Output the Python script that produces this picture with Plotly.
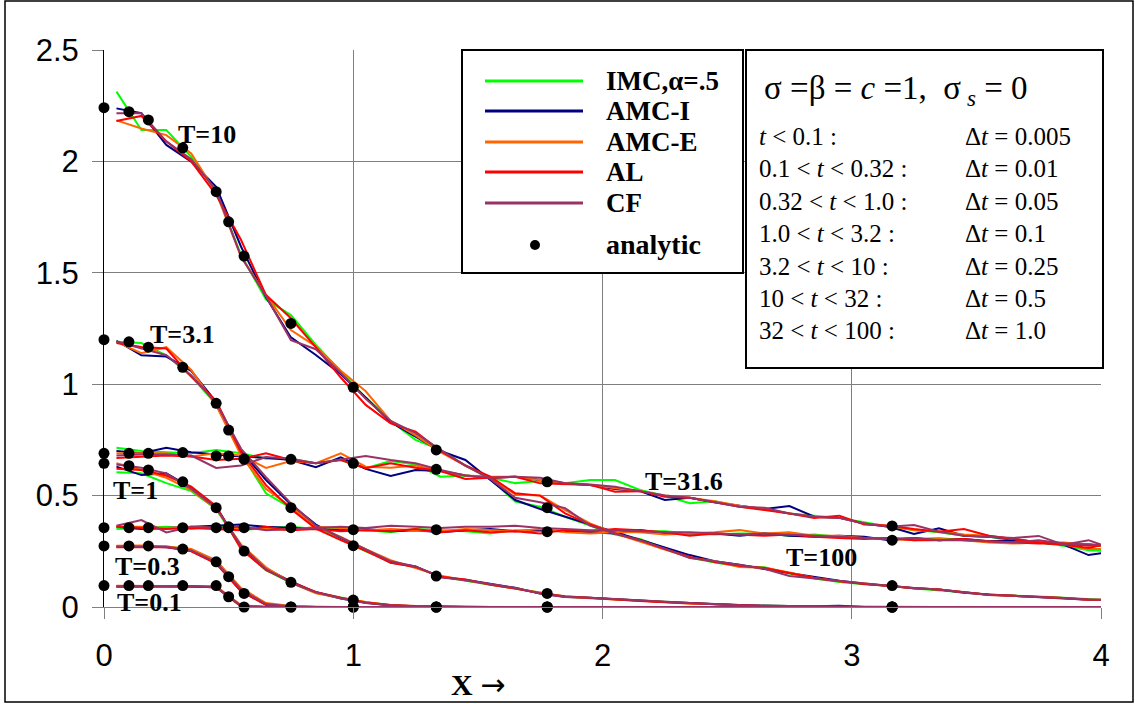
import plotly.graph_objects as go

# ---------------- data ----------------
XG = [0.05, 0.15, 0.25, 0.35, 0.45, 0.55, 0.65, 0.75, 0.85, 0.95,
      1.05, 1.15, 1.25, 1.35, 1.45, 1.55, 1.65, 1.75, 1.85, 1.95,
      2.05, 2.15, 2.25, 2.35, 2.45, 2.55, 2.65, 2.75, 2.85, 2.95,
      3.05, 3.15, 3.25, 3.35, 3.45, 3.55, 3.65, 3.75, 3.85, 3.95, 4.05]

# analytic points
AX = [0, 0.1, 0.178, 0.316, 0.45, 0.5, 0.562, 0.75, 1.0, 1.333, 1.778, 3.162]
A_T01 = [0.096, 0.096, 0.096, 0.096, 0.096, 0.046, 0.0, 0, 0, 0, 0, 0]
A_T03 = [0.274, 0.274, 0.274, 0.26, 0.203, 0.136, 0.061, 0, 0, 0, 0, 0]
A_T1 = [0.645, 0.634, 0.615, 0.562, 0.446, 0.36, 0.251, 0.111, 0.031, 0, 0, 0]
A_T31 = [1.2, 1.19, 1.166, 1.076, 0.914, 0.794, 0.664, 0.446, 0.275, 0.139, 0.061, 0]
A_T10 = [2.241, 2.223, 2.186, 2.061, 1.864, 1.729, 1.575, 1.273, 0.986, 0.705, 0.446, 0.096]
A_T316 = [0.69, 0.69, 0.69, 0.693, 0.678, 0.678, 0.664, 0.663, 0.645, 0.618, 0.562, 0.364]
A_T100 = [0.356, 0.356, 0.356, 0.356, 0.356, 0.356, 0.356, 0.356, 0.347, 0.347, 0.338, 0.30]

# ---- T = 0.1
IMC_T01 = [.094, .093, .095, .094, .091, .006, 0, 0, 0, 0, 0, 0, 0, 0, 0, 0, 0, 0, 0, 0, 0,
           0, 0, 0, 0, 0, 0, 0, 0, 0, 0, 0, 0, 0, 0, 0, 0, 0, 0, 0, 0]
AMCI_T01 = [.092, .094, .093, .092, .089, .004, 0, 0, 0, 0, 0, 0, 0, 0, 0, 0, 0, 0, 0, 0, 0,
            0, 0, 0, 0, 0, 0, 0, 0, 0, 0, 0, 0, 0, 0, 0, 0, 0, 0, 0, 0]
AMCE_T01 = [.095, .094, .093, .095, .093, .008, 0, 0, 0, 0, 0, 0, 0, 0, 0, 0, 0, 0, 0, 0, 0,
            0, 0, 0, 0, 0, 0, 0, 0, 0, 0, 0, 0, 0, 0, 0, 0, 0, 0, 0, 0]
AL_T01 = [.091, .092, .094, .093, .088, .003, 0, 0, 0, 0, 0, 0, 0, 0, 0, 0, 0, 0, 0, 0, 0,
          0, 0, 0, 0, 0, 0, 0, 0, 0, 0, 0, 0, 0, 0, 0, 0, 0, 0, 0, 0]
CF_T01 = [.093, .092, .092, .094, .090, .005, 0, 0, 0, 0, 0, 0, 0, 0, 0, 0, 0, 0, 0, 0, 0,
          0, 0, 0, 0, 0, 0, 0, 0, 0, 0, 0, 0, 0, 0, 0, 0, 0, 0, 0, 0]

# ---- T = 0.3
IMC_T03 = [.274, .270, .272, .258, .205, .080, .015, .003, 0, 0, 0, 0, 0, 0, 0, 0, 0, 0, 0, 0, 0,
           0, 0, 0, 0, 0, 0, 0, 0, 0, 0, 0, 0, 0, 0, 0, 0, 0, 0, 0, 0]
AMCI_T03 = [.270, .273, .268, .252, .197, .072, .010, .002, 0, 0, 0, 0, 0, 0, 0, 0, 0, 0, 0, 0, 0,
            0, 0, 0, 0, 0, 0, 0, 0, 0, 0, 0, 0, 0, 0, 0, 0, 0, 0, 0, 0]
AMCE_T03 = [.275, .276, .271, .260, .210, .085, .018, .004, 0, 0, 0, 0, 0, 0, 0, 0, 0, 0, 0, 0, 0,
            0, 0, 0, 0, 0, 0, 0, 0, 0, 0, 0, 0, 0, 0, 0, 0, 0, 0, 0, 0]
AL_T03 = [.268, .270, .269, .250, .195, .070, .009, .001, 0, 0, 0, 0, 0, 0, 0, 0, 0, 0, 0, 0, 0,
          0, 0, 0, 0, 0, 0, 0, 0, 0, 0, 0, 0, 0, 0, 0, 0, 0, 0, 0, 0]
CF_T03 = [.272, .271, .270, .254, .200, .078, .013, .002, 0, 0, 0, 0, 0, 0, 0, 0, 0, 0, 0, 0, 0,
          0, 0, 0, 0, 0, 0, 0, 0, 0, 0, 0, 0, 0, 0, 0, 0, 0, 0, 0, 0]

# ---- T = 1
IMC_T1 = [.605, .600, .556, .520, .440, .265, .165, .108, .064, .041, .021, .009, .003, .001, 0,
          0, 0, 0, 0, 0, 0, 0, 0, 0, 0, 0, 0, 0, 0, 0, 0, 0, 0, 0, 0, 0, 0, 0, 0, 0, 0]
AMCI_T1 = [.630, .592, .600, .535, .450, .270, .172, .115, .066, .038, .019, .007, .002, 0, 0,
           0, 0, 0, 0, 0, 0, 0, 0, 0, 0, 0, 0, 0, 0, 0, 0, 0, 0, 0, 0, 0, 0, 0, 0, 0, 0]
AMCE_T1 = [.645, .615, .580, .525, .440, .280, .178, .110, .062, .040, .022, .008, .003, .001, 0,
           0, 0, 0, 0, 0, 0, 0, 0, 0, 0, 0, 0, 0, 0, 0, 0, 0, 0, 0, 0, 0, 0, 0, 0, 0, 0]
AL_T1 = [.620, .615, .590, .540, .452, .260, .165, .113, .068, .042, .020, .009, .004, .001, 0,
         0, 0, 0, 0, 0, 0, 0, 0, 0, 0, 0, 0, 0, 0, 0, 0, 0, 0, 0, 0, 0, 0, 0, 0, 0, 0]
CF_T1 = [.640, .625, .600, .530, .445, .275, .170, .108, .066, .039, .018, .008, .003, .001, 0,
         0, 0, 0, 0, 0, 0, 0, 0, 0, 0, 0, 0, 0, 0, 0, 0, 0, 0, 0, 0, 0, 0, 0, 0, 0, 0]

# ---- T = 3.1
IMC_T31 = [1.19, 1.185, 1.13, 1.035, .91, .69, .51, .445, .355, .305,
           .25, .205, .178, .138, .118, .10, .082, .063, .047, .04,
           .034, .027, .021, .016, .012, .008, .005, .003, .002, .001,
           0, 0, 0, 0, 0, 0, 0, 0, 0, 0, 0]
AMCI_T31 = [1.195, 1.13, 1.124, 1.06, .92, .70, .57, .46, .37, .31,
            .258, .20, .182, .134, .122, .104, .086, .06, .045, .041,
            .036, .029, .022, .017, .011, .009, .006, .004, .003, .006,
            0, 0, 0, 0, 0, 0, 0, 0, 0, 0, 0]
AMCE_T31 = [1.19, 1.139, 1.166, 1.064, .905, .68, .53, .45, .36, .315,
            .26, .21, .175, .14, .12, .102, .084, .064, .046, .039,
            .035, .028, .023, .015, .013, .007, .005, .003, .002, .001,
            0, 0, 0, 0, 0, 0, 0, 0, 0, 0, 0]
AL_T31 = [1.185, 1.167, 1.16, 1.034, .925, .695, .547, .44, .352, .30,
          .252, .198, .18, .136, .124, .10, .083, .062, .048, .04,
          .033, .027, .021, .016, .012, .008, .004, .003, .001, 0,
          0, 0, 0, 0, 0, 0, 0, 0, 0, 0, 0]
CF_T31 = [1.192, 1.16, 1.13, 1.04, .915, .71, .583, .465, .365, .312,
          .26, .205, .182, .133, .12, .103, .085, .061, .046, .041,
          .035, .028, .022, .016, .012, .008, .005, .003, .002, .001,
          0, 0, 0, 0, 0, 0, 0, 0, 0, 0, 0]

# ---- T = 10
IMC_T10 = [2.313, 2.141, 2.141, 2.02, 1.864, 1.58, 1.38, 1.31, 1.176, 1.06,
           .94, .835, .75, .705, .635, .575, .473, .45, .405, .365,
           .325, .305, .262, .222, .20, .183, .178, .15, .128, .112,
           .102, .095, .083, .076, .066, .055, .052, .047, .041, .034, .03]
AMCI_T10 = [2.238, 2.216, 2.074, 1.999, 1.886, 1.617, 1.39, 1.21, 1.131, 1.045,
            .94, .83, .765, .70, .66, .57, .48, .44, .405, .37,
            .335, .30, .265, .233, .205, .19, .17, .152, .133, .118,
            .104, .093, .085, .078, .064, .056, .05, .045, .04, .032, .03]
AMCE_T10 = [2.184, 2.148, 2.118, 2.036, 1.86, 1.572, 1.40, 1.243, 1.17, 1.06,
            .968, .835, .77, .695, .635, .58, .505, .50, .435, .375,
            .33, .295, .258, .222, .205, .18, .176, .155, .13, .115,
            .105, .094, .084, .079, .065, .054, .05, .046, .04, .033, .03]
AL_T10 = [2.181, 2.204, 2.09, 2.0, 1.85, 1.647, 1.40, 1.296, 1.165, 1.03,
          .907, .824, .787, .70, .635, .585, .51, .50, .42, .37,
          .33, .30, .26, .225, .202, .185, .175, .152, .13, .116,
          .103, .094, .084, .078, .066, .055, .05, .046, .04, .033, .032]
CF_T10 = [2.216, 2.216, 2.09, 2.01, 1.87, 1.572, 1.395, 1.198, 1.157, 1.05,
          .935, .835, .78, .705, .635, .575, .49, .47, .444, .365,
          .33, .30, .262, .22, .205, .188, .172, .139, .128, .114,
          .104, .094, .084, .078, .066, .054, .05, .046, .04, .034, .03]

# ---- T = 31.6
IMC_T316 = [.715, .70, .695, .69, .705, .69, .665, .665, .645, .66,
            .623, .655, .64, .585, .59, .58, .556, .565, .555, .57,
            .57, .525, .50, .466, .475, .45, .44, .42, .41, .40,
            .38, .36, .345, .335, .32, .315, .30, .29, .275, .255, .25]
AMCI_T316 = [.70, .69, .715, .695, .685, .675, .67, .66, .627, .672,
             .62, .588, .615, .61, .59, .58, .585, .57, .555, .548,
             .53, .52, .48, .49, .47, .455, .44, .453, .405, .40,
             .375, .36, .328, .353, .32, .315, .305, .29, .28, .233, .25]
AMCE_T316 = [.69, .69, .69, .675, .69, .68, .624, .655, .645, .69,
             .63, .625, .635, .61, .59, .585, .585, .57, .555, .548,
             .535, .52, .50, .49, .475, .455, .44, .42, .405, .40,
             .375, .365, .345, .34, .325, .32, .305, .29, .28, .26, .26]
AL_T316 = [.669, .675, .68, .675, .66, .665, .69, .66, .645, .66,
           .623, .645, .625, .61, .575, .58, .585, .555, .55, .548,
           .517, .52, .495, .49, .47, .45, .435, .42, .40, .41,
           .37, .365, .35, .338, .35, .32, .305, .29, .28, .265, .29]
CF_T316 = [.68, .685, .685, .68, .624, .635, .673, .665, .645, .66,
           .678, .66, .645, .615, .59, .58, .585, .58, .555, .55,
           .54, .52, .50, .49, .47, .45, .445, .42, .405, .40,
           .375, .36, .368, .338, .32, .315, .31, .319, .28, .30, .26]

# ---- T = 100
IMC_T100 = [.35, .355, .36, .35, .365, .345, .355, .36, .35, .355,
            .345, .335, .35, .345, .34, .33, .345, .345, .34, .335,
            .345, .34, .34, .33, .325, .33, .33, .32, .325, .315,
            .31, .31, .305, .31, .30, .295, .29, .29, .285, .28, .27]
AMCI_T100 = [.36, .35, .355, .36, .365, .37, .36, .355, .35, .345,
             .35, .34, .345, .335, .345, .35, .34, .345, .34, .335,
             .33, .345, .33, .33, .33, .32, .33, .32, .315, .32,
             .315, .30, .31, .30, .305, .295, .30, .29, .28, .28, .275]
AMCE_T100 = [.36, .36, .355, .36, .355, .355, .35, .345, .36, .355,
             .345, .35, .345, .34, .35, .345, .34, .35, .335, .33,
             .335, .335, .325, .33, .335, .345, .33, .335, .32, .32,
             .31, .305, .30, .305, .30, .29, .285, .29, .29, .28, .27]
AL_T100 = [.36, .355, .35, .355, .35, .345, .36, .345, .35, .34,
           .345, .34, .35, .335, .345, .335, .34, .33, .345, .34,
           .35, .345, .335, .32, .33, .325, .32, .325, .315, .31,
           .305, .31, .30, .30, .305, .295, .29, .285, .285, .275, .28]
CF_T100 = [.365, .39, .335, .36, .355, .36, .345, .35, .355, .36,
           .355, .365, .36, .355, .36, .36, .365, .355, .35, .345,
           .345, .34, .335, .335, .33, .325, .33, .325, .32, .315,
           .31, .305, .31, .30, .30, .295, .29, .30, .285, .28, .275]

METHODS = ["IMC,\u03b1=.5", "AMC-I", "AMC-E", "AL", "CF"]
COLORS = ["#00FF00", "#000080", "#FF6600", "#FF0000", "#993366"]
CURVES = [
    [IMC_T01, IMC_T03, IMC_T1, IMC_T31, IMC_T10, IMC_T316, IMC_T100],
    [AMCI_T01, AMCI_T03, AMCI_T1, AMCI_T31, AMCI_T10, AMCI_T316, AMCI_T100],
    [AMCE_T01, AMCE_T03, AMCE_T1, AMCE_T31, AMCE_T10, AMCE_T316, AMCE_T100],
    [AL_T01, AL_T03, AL_T1, AL_T31, AL_T10, AL_T316, AL_T100],
    [CF_T01, CF_T03, CF_T1, CF_T31, CF_T10, CF_T316, CF_T100],
]
ANALYTIC = [A_T01, A_T03, A_T1, A_T31, A_T10, A_T316, A_T100]

CURVE_LABELS = ["T=10", "T=3.1", "T=1", "T=0.3", "T=0.1", "T=31.6", "T=100"]

TIMESTEP_LEFT = ["<i>t</i> &lt; 0.1 :", "0.1 &lt; <i>t</i> &lt; 0.32 :", "0.32 &lt; <i>t</i> &lt; 1.0 :",
                 "1.0 &lt; <i>t</i> &lt; 3.2 :", "3.2 &lt; <i>t</i> &lt; 10 :", "10 &lt; <i>t</i> &lt; 32 :",
                 "32 &lt; <i>t</i> &lt; 100 :"]
TIMESTEP_RIGHT = ["\u0394<i>t</i> = 0.005", "\u0394<i>t</i> = 0.01", "\u0394<i>t</i> = 0.05",
                  "\u0394<i>t</i> = 0.1", "\u0394<i>t</i> = 0.25", "\u0394<i>t</i> = 0.5",
                  "\u0394<i>t</i> = 1.0"]

# ---------------- figure ----------------
W, H = 1135, 704
L, R, T, B = 104, 34, 50, 97
PW, PH = W - L - R, H - T - B


def px(xp):
    return (xp - L) / PW


def py(yp):
    return (H - B - yp) / PH


SERIF = "Times New Roman, Liberation Serif, serif"
SANS = "Arial, Liberation Sans, sans-serif"

fig = go.Figure()
for name, color, curves in zip(METHODS, COLORS, CURVES):
    xs, ys = [], []
    for c in curves:
        assert len(c) == len(XG), (name, len(c))
        xs += XG + [None]
        ys += c + [None]
    fig.add_trace(go.Scatter(x=xs, y=ys, mode="lines", name=name,
                             line=dict(color=color, width=2), showlegend=False,
                             hoverinfo="skip"))

axs, ays = [], []
for a in ANALYTIC:
    axs += AX
    ays += a
fig.add_trace(go.Scatter(x=axs, y=ays, mode="markers", name="analytic",
                         marker=dict(color="black", size=11), showlegend=False,
                         cliponaxis=False, hoverinfo="skip"))

fig.update_layout(
    width=W, height=H, margin=dict(l=L, r=R, t=T, b=B),
    paper_bgcolor="white", plot_bgcolor="white", showlegend=False,
)
fig.update_xaxes(range=[0, 4], tickvals=[0, 1, 2, 3, 4], ticktext=["0", "1", "2", "3", "4"],
                 showgrid=True, gridcolor="#7f7f7f", gridwidth=1, zeroline=False,
                 showline=True, linecolor="#7f7f7f", linewidth=1,
                 ticks="outside", ticklen=11, tickcolor="#7f7f7f", tickwidth=1,
                 ticklabelstandoff=10,
                 tickfont=dict(family=SANS, size=31, color="black"))
fig.update_yaxes(range=[0, 2.5], tickvals=[0, 0.5, 1, 1.5, 2, 2.5],
                 ticktext=["0", "0.5", "1", "1.5", "2", "2.5"],
                 showgrid=True, gridcolor="#7f7f7f", gridwidth=1, zeroline=False,
                 showline=True, linecolor="black", linewidth=1,
                 ticks="outside", ticklen=11, tickcolor="#7f7f7f", tickwidth=1,
                 ticklabelstandoff=7,
                 tickfont=dict(family=SANS, size=31, color="black"))

shapes = []
# outer frame
shapes.append(dict(type="rect", xref="paper", yref="paper", x0=px(5), x1=px(1133),
                   y0=py(702), y1=py(1), line=dict(color="black", width=1.5),
                   fillcolor="rgba(0,0,0,0)", layer="below"))
# legend box
shapes.append(dict(type="rect", xref="paper", yref="paper", x0=px(462), x1=px(743),
                   y0=py(273), y1=py(50), line=dict(color="black", width=2),
                   fillcolor="white", layer="above"))
# parameter box
shapes.append(dict(type="rect", xref="paper", yref="paper", x0=px(746), x1=px(1103),
                   y0=py(368), y1=py(50), line=dict(color="black", width=2),
                   fillcolor="white", layer="above"))

annotations = []
leg_y = [81, 111, 142, 172, 203]
for name, color, yy in zip(METHODS, COLORS, leg_y):
    shapes.append(dict(type="line", xref="paper", yref="paper", x0=px(485), x1=px(583),
                       y0=py(yy), y1=py(yy), line=dict(color=color, width=3), layer="above"))
    annotations.append(dict(text="<b>%s</b>" % name, xref="paper", yref="paper",
                            x=px(604), y=py(yy), xanchor="left", yanchor="middle",
                            showarrow=False, font=dict(family=SERIF, size=27, color="black")))
shapes.append(dict(type="circle", xref="paper", yref="paper", x0=px(530), x1=px(540),
                   y0=py(250), y1=py(240), line=dict(color="black", width=0),
                   fillcolor="black", layer="above"))
annotations.append(dict(text="<b>analytic</b>", xref="paper", yref="paper",
                        x=px(604), y=py(244), xanchor="left", yanchor="middle",
                        showarrow=False, font=dict(family=SERIF, size=28, color="black")))

# parameter box text
annotations.append(dict(text="\u03c3 =\u03b2 = <i>c</i> =1,  \u03c3<sub> <i>s</i></sub> = 0",
                        xref="paper", yref="paper", x=px(762), y=py(90),
                        xanchor="left", yanchor="middle", showarrow=False,
                        font=dict(family=SERIF, size=33, color="black")))
row_y = [136, 168, 201, 233, 266, 298, 330]
for lt, rt, yy in zip(TIMESTEP_LEFT, TIMESTEP_RIGHT, row_y):
    annotations.append(dict(text=lt, xref="paper", yref="paper", x=px(757), y=py(yy),
                            xanchor="left", yanchor="middle", showarrow=False,
                            font=dict(family=SERIF, size=25, color="black")))
    annotations.append(dict(text=rt, xref="paper", yref="paper", x=px(963), y=py(yy),
                            xanchor="left", yanchor="middle", showarrow=False,
                            font=dict(family=SERIF, size=25, color="black")))

# curve labels (pixel centres)
label_pos = [(207, 134), (182, 334), (135, 490), (147, 566), (149, 602), (684, 482), (821, 557)]
for txt, (lx, ly) in zip(CURVE_LABELS, label_pos):
    annotations.append(dict(text="<b>%s</b>" % txt, xref="paper", yref="paper",
                            x=px(lx), y=py(ly), xanchor="center", yanchor="middle",
                            showarrow=False, font=dict(family=SERIF, size=26, color="black")))

# x axis title
annotations.append(dict(text="<b>X </b><span style='font-family:DejaVu Sans;font-size:30px'>\u2192</span>",
                        xref="paper", yref="paper",
                        x=px(478), y=py(684), xanchor="center", yanchor="middle",
                        showarrow=False, font=dict(family=SERIF, size=30, color="black")))

fig.update_layout(shapes=shapes, annotations=annotations)
fig.write_html("out.html", config={"displayModeBar": False},
               post_script="document.body.style.margin='0px';")
